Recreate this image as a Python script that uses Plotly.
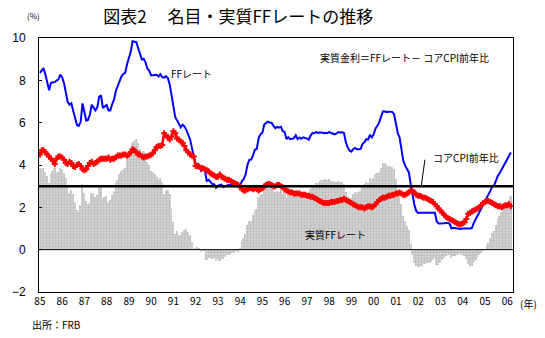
import pandas as pd
import plotly.graph_objects as go

# ---- data (monthly, Jan 1985 - Mar 2006) ----
ff_rate = [
    # 1985
    8.35, 8.50, 8.58, 8.27, 7.97, 7.53, 7.88, 7.90, 7.92, 7.99, 8.05, 8.27,
    # 1986
    8.14, 7.86, 7.48, 6.99, 6.85, 6.92, 6.56, 6.17, 5.89, 5.85, 6.04, 6.91,
    # 1987
    6.43, 6.10, 6.13, 6.37, 6.85, 6.73, 6.58, 6.73, 7.22, 7.29, 6.69, 6.77,
    # 1988
    6.83, 6.58, 6.58, 6.87, 7.09, 7.51, 7.75, 8.01, 8.19, 8.30, 8.35, 8.76,
    # 1989
    9.12, 9.36, 9.85, 9.84, 9.81, 9.53, 9.24, 8.99, 9.02, 8.84, 8.55, 8.45,
    # 1990
    8.23, 8.24, 8.28, 8.26, 8.18, 8.29, 8.15, 8.13, 8.20, 8.11, 7.81, 7.31,
    # 1991
    6.91, 6.25, 6.12, 5.91, 5.78, 5.90, 5.82, 5.66, 5.45, 5.21, 4.81, 4.43,
    # 1992
    4.03, 4.06, 3.98, 3.73, 3.82, 3.76, 3.25, 3.30, 3.22, 3.10, 3.09, 2.92,
    # 1993
    3.02, 3.03, 3.07, 2.96, 3.00, 3.04, 3.06, 3.03, 3.09, 2.99, 3.02, 2.96,
    # 1994
    3.05, 3.25, 3.34, 3.56, 4.01, 4.25, 4.26, 4.47, 4.73, 4.76, 5.29, 5.45,
    # 1995
    5.53, 5.92, 5.98, 6.05, 6.01, 6.00, 5.85, 5.74, 5.80, 5.76, 5.80, 5.60,
    # 1996
    5.56, 5.22, 5.31, 5.22, 5.24, 5.27, 5.40, 5.22, 5.30, 5.24, 5.31, 5.29,
    # 1997
    5.25, 5.19, 5.39, 5.51, 5.50, 5.56, 5.52, 5.54, 5.54, 5.50, 5.52, 5.50,
    # 1998
    5.56, 5.51, 5.49, 5.45, 5.49, 5.56, 5.54, 5.55, 5.51, 5.07, 4.83, 4.68,
    # 1999
    4.63, 4.76, 4.81, 4.74, 4.74, 4.76, 4.99, 5.07, 5.22, 5.20, 5.42, 5.30,
    # 2000
    5.45, 5.73, 5.85, 6.02, 6.27, 6.53, 6.54, 6.50, 6.52, 6.51, 6.51, 6.40,
    # 2001
    5.98, 5.49, 5.31, 4.80, 4.21, 3.97, 3.77, 3.65, 3.07, 2.49, 2.09, 1.82,
    # 2002
    1.73, 1.74, 1.73, 1.75, 1.75, 1.75, 1.73, 1.74, 1.75, 1.75, 1.34, 1.24,
    # 2003
    1.24, 1.26, 1.25, 1.26, 1.26, 1.22, 1.01, 1.03, 1.01, 1.01, 1.00, 0.98,
    # 2004
    1.00, 1.01, 1.00, 1.00, 1.00, 1.03, 1.26, 1.43, 1.61, 1.76, 1.93, 2.16,
    # 2005
    2.28, 2.50, 2.63, 2.79, 3.00, 3.04, 3.26, 3.50, 3.62, 3.78, 4.00, 4.16,
    # 2006
    4.29, 4.49, 4.59,
]

core_cpi_yoy = [
    # 1985
    4.50, 4.70, 4.70, 4.60, 4.50, 4.40, 4.30, 4.20, 4.05, 4.30, 4.40, 4.40,
    # 1986
    4.35, 4.25, 4.10, 4.05, 4.15, 4.10, 3.95, 3.90, 4.00, 4.05, 3.95, 3.80,
    # 1987
    3.75, 3.80, 3.95, 4.10, 4.15, 4.05, 4.10, 4.15, 4.25, 4.30, 4.30, 4.30,
    # 1988
    4.30, 4.35, 4.25, 4.30, 4.30, 4.35, 4.45, 4.45, 4.45, 4.50, 4.50, 4.45,
    # 1989
    4.50, 4.60, 4.75, 4.70, 4.60, 4.50, 4.50, 4.40, 4.35, 4.40, 4.40, 4.45,
    # 1990
    4.50, 4.55, 4.70, 4.85, 4.90, 4.90, 4.95, 5.50, 5.40, 5.30, 5.20, 5.35,
    # 1991
    5.60, 5.50, 5.25, 5.20, 5.10, 5.05, 4.90, 4.70, 4.60, 4.50, 4.45, 4.40,
    # 1992
    3.95, 3.95, 3.90, 3.85, 3.85, 3.80, 3.75, 3.70, 3.60, 3.55, 3.50, 3.45,
    # 1993
    3.45, 3.55, 3.45, 3.40, 3.35, 3.30, 3.30, 3.25, 3.20, 3.15, 3.10, 3.05,
    # 1994
    2.95, 2.85, 2.80, 2.80, 2.85, 2.90, 2.90, 2.85, 2.90, 2.85, 2.80, 2.85,
    # 1995
    2.90, 3.00, 3.05, 3.10, 3.10, 3.05, 3.00, 3.00, 3.05, 3.05, 3.00, 2.95,
    # 1996
    2.85, 2.80, 2.75, 2.70, 2.70, 2.65, 2.65, 2.65, 2.65, 2.60, 2.60, 2.60,
    # 1997
    2.55, 2.55, 2.50, 2.50, 2.45, 2.40, 2.35, 2.30, 2.25, 2.20, 2.20, 2.20,
    # 1998
    2.20, 2.25, 2.25, 2.25, 2.30, 2.30, 2.35, 2.35, 2.40, 2.35, 2.30, 2.25,
    # 1999
    2.20, 2.15, 2.10, 2.05, 2.00, 2.00, 2.00, 1.95, 2.00, 2.05, 2.05, 2.00,
    # 2000
    2.05, 2.15, 2.25, 2.35, 2.40, 2.45, 2.45, 2.50, 2.55, 2.55, 2.60, 2.60,
    # 2001
    2.65, 2.65, 2.70, 2.65, 2.60, 2.60, 2.65, 2.70, 2.80, 2.75, 2.70, 2.60,
    # 2002
    2.55, 2.55, 2.50, 2.45, 2.45, 2.40, 2.35, 2.30, 2.25, 2.15, 2.05, 1.95,
    # 2003
    1.85, 1.75, 1.65, 1.55, 1.50, 1.45, 1.40, 1.35, 1.30, 1.25, 1.20, 1.20,
    # 2004
    1.25, 1.30, 1.45, 1.70, 1.75, 1.80, 1.85, 1.90, 1.95, 2.00, 2.10, 2.20,
    # 2005
    2.25, 2.30, 2.30, 2.25, 2.20, 2.15, 2.10, 2.05, 2.05, 2.00, 2.05, 2.10,
    # 2006
    2.10, 2.15, 2.05,
]

# real FF rate as defined on the chart: FF rate - core CPI YoY
real_ff = [round(a - b, 2) for a, b in zip(ff_rate, core_cpi_yoy)]

months = pd.date_range("1985-01-01", periods=len(ff_rate), freq="MS")
year_ticks = pd.date_range("1985-01-01", "2006-01-01", freq="YS")
year_labels = ["85", "86", "87", "88", "89", "90", "91", "92", "93", "94", "95",
               "96", "97", "98", "99", "00", "01", "02", "03", "04", "05", "06"]
REF_LEVEL = 3

JP = "Noto Sans CJK JP"

fig = go.Figure()
fig.add_trace(go.Bar(
    x=months, y=real_ff, name="実質FFレート",
    marker=dict(color="#c8c8c8", line=dict(width=0),
                pattern=dict(shape=".", fgcolor="#a0a0a0", bgcolor="#d6d6d6",
                             size=3, solidity=0.45)),
))
fig.add_trace(go.Scatter(
    x=months, y=ff_rate, name="FFレート", mode="lines",
    line=dict(color="#0000ff", width=2),
))
fig.add_trace(go.Scatter(
    x=months, y=core_cpi_yoy, name="コアCPI前年比", mode="lines+markers",
    line=dict(color="#ff0000", width=2.5),
    marker=dict(symbol="cross", size=5, color="#ff0000", line=dict(width=0)),
))

fig.add_hline(y=REF_LEVEL, line=dict(color="black", width=2.5), layer="above")
fig.add_hline(y=0, line=dict(color="black", width=1), layer="above")

ann = [
    dict(text="(%)", x=-0.012, y=1.089, xanchor="center", font=dict(size=8)),
    dict(text="FFレート", x=0.275, y=0.860, xanchor="left", font=dict(size=10)),
    dict(text="実質金利＝FFレート－ コアCPI前年比", x=0.588, y=0.923, xanchor="left", font=dict(size=10)),
    dict(text="コアCPI前年比", x=0.826, y=0.531, xanchor="left", font=dict(size=10)),
    dict(text="実質FFレート", x=0.556, y=0.225, xanchor="left", font=dict(size=10)),
    dict(text="(年)", x=1.033, y=-0.046, xanchor="center", font=dict(size=10)),
    dict(text="出所：FRB", x=-0.02, y=-0.128, xanchor="left", font=dict(size=10)),
]
for a in ann:
    fig.add_annotation(xref="paper", yref="paper", yanchor="middle",
                       showarrow=False, font_color="black",
                       **{k: v for k, v in a.items()})
fig.add_annotation(x="2002-02-18", y=2.95, xref="x", yref="y", text="",
                   showarrow=True, arrowhead=1, arrowsize=0.6, arrowwidth=1,
                   arrowcolor="black", ax=4, ay=-29)

fig.update_layout(
    width=545, height=338,
    margin=dict(l=30, r=32, t=38, b=46),
    paper_bgcolor="white", plot_bgcolor="white",
    showlegend=False, bargap=0,
    font=dict(family=JP, color="black"),
    title=dict(text="図表2　 名目・実質FFレートの推移", x=0.437, y=0.95,
               xanchor="center", yanchor="middle", xref="container", yref="container",
               font=dict(size=17, family=JP, color="black")),
    xaxis=dict(range=["1984-12-17", "2006-04-06"], tickvals=year_ticks,
               ticktext=year_labels, ticks="", showgrid=False, zeroline=False,
               showline=True, linecolor="black", linewidth=1, mirror=True,
               tickfont=dict(size=10)),
    yaxis=dict(range=[-2, 10], dtick=2, ticks="inside", ticklen=3,
               tickcolor="black", showgrid=False, zeroline=False,
               showline=True, linecolor="black", linewidth=1, mirror=True,
               ticklabelstandoff=10, tickfont=dict(size=12, family="Liberation Sans")),
)

fig.write_html("out.html")
